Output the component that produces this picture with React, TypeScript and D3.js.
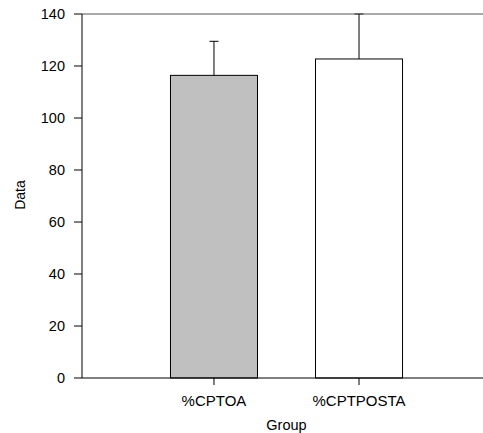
import React from "react";
import * as d3 from "d3";

const groups = ["%CPTOA", "%CPTPOSTA"];
const means = [116.4, 122.7];
const upperErrors = [13.1, 17.3];
const fills = ["#c0c0c0", "#ffffff"];
const yTicks = [0, 20, 40, 60, 80, 100, 120, 140];

const W = 483;
const H = 433;
const left = 82;
const right = 491;
const top = 14;
const bottom = 378;

export default function App() {
  const x = d3
    .scaleBand<string>()
    .domain(groups)
    .range([left, right])
    .paddingInner(0.4)
    .paddingOuter(0.61);
  const y = d3.scaleLinear().domain([0, 140]).range([bottom, top]);
  const font = "'Liberation Sans', Arial, sans-serif";

  return (
    <div
      style={{
        position: "fixed",
        left: 0,
        top: 0,
        width: W,
        height: H,
        overflow: "hidden",
        background: "#fff",
      }}
    >
      <svg width={W} height={H} style={{ display: "block" }} fontFamily={font}>
        <defs>
          <clipPath id="plot">
            <rect x={left} y={top - 1} width={right - left} height={bottom - top + 2} />
          </clipPath>
        </defs>
        {/* bars */}
        {groups.map((g, i) => (
          <rect
            key={g}
            x={x(g)!}
            y={y(means[i])}
            width={x.bandwidth()}
            height={y(0) - y(means[i])}
            fill={fills[i]}
            stroke="#000"
            strokeWidth={1}
          />
        ))}
        {/* error bars (upper only), clipped to the plot area */}
        <g clipPath="url(#plot)">
          {groups.map((g, i) => {
            const cx = x(g)! + x.bandwidth() / 2;
            const yt = y(means[i] + upperErrors[i]);
            return (
              <g key={g} stroke="#000" strokeWidth={1}>
                <line x1={cx} x2={cx} y1={y(means[i])} y2={yt} />
                <line x1={cx - 4.5} x2={cx + 4.5} y1={yt} y2={yt} />
              </g>
            );
          })}
        </g>
        {/* frame */}
        <line x1={left} x2={W} y1={top} y2={top} stroke="#555" />
        <line x1={left} x2={W} y1={bottom} y2={bottom} stroke="#000" />
        <line x1={left} x2={left} y1={top} y2={bottom} stroke="#000" />
        {/* y axis */}
        {yTicks.map((t) => (
          <g key={t}>
            <line x1={left - 8} x2={left} y1={y(t)} y2={y(t)} stroke="#000" />
            <text
              x={left - 17}
              y={y(t)}
              dy="0.36em"
              textAnchor="end"
              fontSize={14.5}
              fill="#000"
            >
              {t}
            </text>
          </g>
        ))}
        {/* x axis */}
        {groups.map((g) => {
          const cx = x(g)! + x.bandwidth() / 2;
          return (
            <g key={g}>
              <line x1={cx} x2={cx} y1={bottom} y2={bottom + 7} stroke="#000" />
              <text x={cx} y={405.5} textAnchor="middle" fontSize={15} fill="#000">
                {g}
              </text>
            </g>
          );
        })}
        <text x={(left + right) / 2} y={430} textAnchor="middle" fontSize={14.5} fill="#000">
          Group
        </text>
        <text
          transform="translate(25, 195) rotate(-90)"
          textAnchor="middle"
          fontSize={14}
          fill="#000"
        >
          Data
        </text>
      </svg>
    </div>
  );
}
